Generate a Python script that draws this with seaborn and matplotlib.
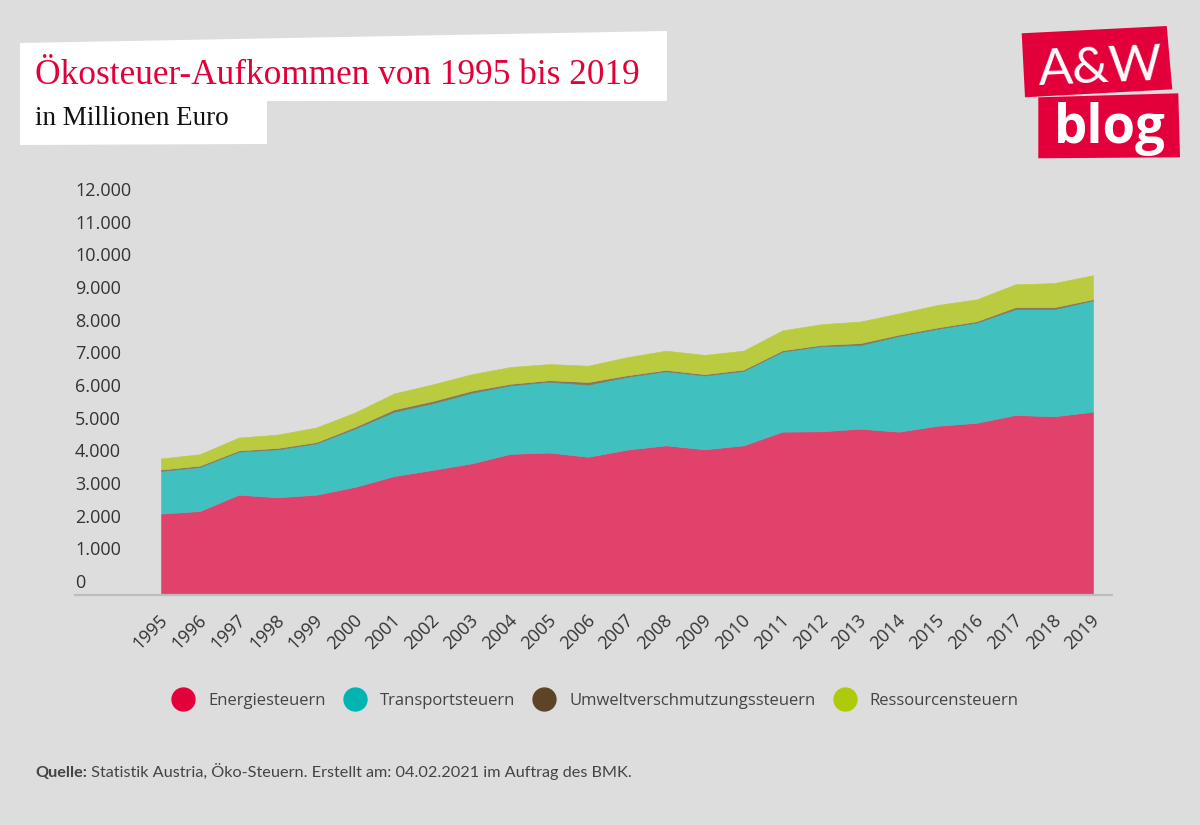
import matplotlib
matplotlib.use("Agg")
import matplotlib.pyplot as plt
import seaborn as sns
from matplotlib.patches import Polygon
from matplotlib.lines import Line2D
from matplotlib.transforms import offset_copy, ScaledTranslation
from matplotlib import font_manager as fm

# ---------------- data (Mio. Euro) ----------------
years = list(range(1995, 2020))
energie = [2490, 2570, 3070, 2990, 3070, 3310, 3640, 3830, 4030, 4320, 4360, 4230, 4450,
           4580, 4460, 4580, 5000, 5010, 5090, 5000, 5180, 5270, 5510, 5470, 5610]
transport = [1310, 1350, 1320, 1470, 1570, 1790, 1970, 2040, 2160, 2100, 2170, 2210, 2230,
             2270, 2260, 2280, 2450, 2610, 2560, 2930, 2970, 3070, 3240, 3280, 3410]
umwelt = [40, 40, 35, 40, 40, 50, 70, 70, 65, 45, 45, 80, 45,
          40, 40, 40, 40, 35, 60, 40, 40, 40, 60, 60, 35]
ressourcen = [340, 350, 395, 410, 450, 440, 490, 510, 505, 515, 495, 500, 555,
              590, 590, 580, 610, 635, 660, 650, 690, 670, 700, 740, 735]

series_names = ["Energiesteuern", "Transportsteuern", "Umweltverschmutzungssteuern", "Ressourcensteuern"]
legend_colors = ["#E4003A", "#00B4B4", "#5E4427", "#AFC90B"]
area_colors = ["#E1426B", "#41C0C0", "#8A7560", "#BACB40"]

y_ticks = [0, 1000, 2000, 3000, 4000, 5000, 6000, 7000, 8000, 9000, 10000, 11000, 12000]
y_tick_labels = ["0", "1.000", "2.000", "3.000", "4.000", "5.000", "6.000", "7.000",
                 "8.000", "9.000", "10.000", "11.000", "12.000"]
x_tick_labels = [str(y) for y in years]

title = "Ökosteuer-Aufkommen von 1995 bis 2019"
subtitle = "in Millionen Euro"
source_bold = "Quelle:"
source_text = " Statistik Austria, Öko-Steuern. Erstellt am: 04.02.2021 im Auftrag des BMK."

# ---------------- style ----------------
BG = "#DDDDDD"
RED = "#E3003A"
sns.set_theme(style="white")
plt.rcParams['font.family'] = ['Open Sans', 'DejaVu Sans']


def has_font(name):
    try:
        fm.findfont(fm.FontProperties(family=name), fallback_to_default=False)
        return True
    except Exception:
        return False


serif = 'Liberation Serif' if has_font('Liberation Serif') else 'DejaVu Serif'
narrow = 'Liberation Sans Narrow' if has_font('Liberation Sans Narrow') else 'Lato'

W, H = 1200, 825
fig = plt.figure(figsize=(W / 100, H / 100), dpi=100)
fig.patch.set_facecolor(BG)


def fx(x):
    return x / W


def fy(y):
    return 1 - y / H


# axes: spine from x=75 to 1112 px, y 0 at 595 px, 12000 at 203 px
ax_left, ax_right, ax_bottom, ax_top = 75, 1112, 595, 203
ax = fig.add_axes([fx(ax_left), fy(ax_bottom), (ax_right - ax_left) / W, (ax_bottom - ax_top) / H])
ax.set_facecolor(BG)

px_per_year = (1093 - 161) / 24
ax.set_xlim(1995 - (161 - ax_left) / px_per_year, 2019 + (ax_right - 1093) / px_per_year)
ax.set_ylim(0, 12000)

polys = ax.stackplot(years, energie, transport, umwelt, ressourcen,
                     colors=area_colors, linewidth=0.4)
for p, c in zip(polys, area_colors):
    p.set_edgecolor(c)

sns.despine(ax=ax, left=True, top=True, right=True)
ax.spines['bottom'].set_color('#BDBDBD')
ax.spines['bottom'].set_linewidth(1.6)
ax.grid(False)

# y labels: left aligned, sitting above their values
ax.set_yticks([])
ytrans = offset_copy(ax.get_yaxis_transform(), fig=fig, x=0, y=12, units='dots')
for v, lab in zip(y_ticks, y_tick_labels):
    ax.text(0, v, lab, transform=ytrans, ha='left', va='center',
            fontsize=13, color='#333333', family=['Open Sans', 'DejaVu Sans'])

ax.set_xticks(years)
ax.set_xticklabels(x_tick_labels, rotation=45, ha='right', va='center',
                   rotation_mode='anchor', fontsize=13, color='#333333')
ax.tick_params(axis='x', length=0, pad=16)
for lbl in ax.get_xticklabels():
    lbl.set_transform(lbl.get_transform() + ScaledTranslation(4 / 100, 0, fig.dpi_scale_trans))

# ---------------- title block ----------------
title_box = Polygon([(fx(20), fy(43)), (fx(667), fy(31)), (fx(667), fy(101)),
                     (fx(267), fy(101)), (fx(267), fy(144)), (fx(20), fy(145))],
                    closed=True, transform=fig.transFigure, facecolor='white',
                    edgecolor='none', zorder=1)
fig.add_artist(title_box)
fig.text(fx(35), fy(84), title, color=RED, fontsize=25.4, family=serif,
         ha='left', va='baseline', zorder=2)
fig.text(fx(35), fy(125), subtitle, color='#111111', fontsize=19.5, family=serif,
         ha='left', va='baseline', zorder=2)

# ---------------- logo ----------------
logo_top = Polygon([(fx(1021.7), fy(33.3)), (fx(1166.7), fy(26)), (fx(1172.3), fy(89.3)),
                    (fx(1025), fy(97.3))], closed=True, transform=fig.transFigure,
                   facecolor=RED, edgecolor='none', zorder=1)
logo_bot = Polygon([(fx(1038.3), fy(97.3)), (fx(1178.3), fy(93.3)), (fx(1180), fy(157.3)),
                    (fx(1038.3), fy(158.3))], closed=True, transform=fig.transFigure,
                   facecolor=RED, edgecolor='none', zorder=1)
fig.add_artist(logo_top)
fig.add_artist(logo_bot)
fig.text(fx(1100), fy(85), "A&W", color='white', fontsize=37, family=['Lato', 'DejaVu Sans'],
         fontweight='normal', ha='center', va='baseline', rotation=2.5, zorder=2)
fig.text(fx(1110), fy(143), "blog", color='white', fontsize=38, family=['Open Sans', 'DejaVu Sans'],
         fontweight='bold', ha='center', va='baseline', zorder=2)

# ---------------- legend ----------------
handles = [Line2D([0], [0], marker='o', linestyle='None', markersize=16.5,
                  markerfacecolor=c, markeredgecolor=c) for c in legend_colors]
fig.legend(handles, series_names, loc='center', bbox_to_anchor=(0.4972, fy(701)),
           ncol=4, frameon=False, fontsize=12, handlelength=1.0, handletextpad=1.0,
           columnspacing=1.25, borderpad=0, labelcolor='#444444')

# ---------------- source ----------------
t1 = fig.text(fx(35), fy(777), source_bold, fontsize=11.7, family=[narrow, 'DejaVu Sans'],
              fontweight='bold', color='#444444', ha='left', va='baseline')
fig.canvas.draw()
bb = t1.get_window_extent()
fig.text(bb.x1 / W, fy(777), source_text, fontsize=11.7, family=[narrow, 'DejaVu Sans'],
         color='#444444', ha='left', va='baseline')

fig.savefig("out.png", dpi=100, facecolor=BG)
